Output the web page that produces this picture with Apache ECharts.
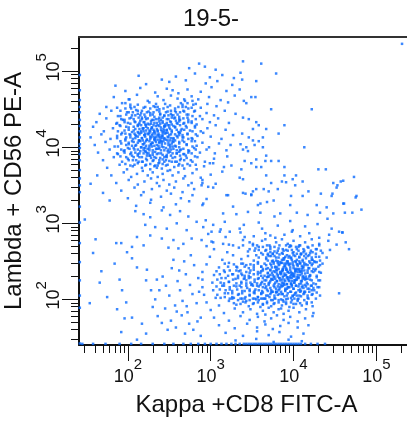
<!DOCTYPE html>
<html>
<head>
<meta charset="utf-8">
<script src="https://cdn.jsdelivr.net/npm/echarts@6/dist/echarts.min.js"></script>
<style>
html, body { margin: 0; padding: 0; background: #fff; }
#main { width: 407px; height: 421px; }
</style>
</head>
<body>
<div id="main"></div>
<script>
// all values are log10 of the channel intensity
var titleText = '19-5-';
var xName = 'Kappa +CD8 FITC-A';
var yName = 'Lambda + CD56 PE-A';
var xRange = [1.41, 5.37];
var yRange = [1.40, 5.45];
var decades = [2, 3, 4, 5];
var minorTickRaw = [30, 40, 50, 60, 70, 80, 90,
    200, 300, 400, 500, 600, 700, 800, 900,
    2000, 3000, 4000, 5000, 6000, 7000, 8000, 9000,
    20000, 30000, 40000, 50000, 60000, 70000, 80000, 90000, 200000];

// CD56+ population (upper left)
var nkCells = [
    [2.74,5.04],[2.86,5.1],[2.93,5.06],[3.06,5.02],[2.58,4.93],[2.81,4.97],[2.99,4.92],[3.14,4.95],[3.28,4.91],[2.22,4.83],[2.5,4.86],[2.7,4.88],[2.94,4.84],[3.08,4.87],[3.26,4.82],[1.85,4.81],[2.41,4.89],[2.13,4.94],
    [1.97,4.74],[2.15,4.78],[2.33,4.72],[2.47,4.77],[2.61,4.71],[2.72,4.76],[2.88,4.73],[3.01,4.79],[3.19,4.74],[2.54,4.75],
    [1.83,4.66],[2.02,4.63],[2.11,4.69],[2.24,4.61],[2.36,4.67],[2.43,4.62],[2.52,4.68],[2.6,4.64],[2.69,4.61],[2.77,4.67],[2.85,4.63],[2.98,4.66],[3.12,4.62],[3.29,4.68],
    [1.74,4.53],[1.93,4.58],[2.04,4.51],[2.12,4.56],[2.19,4.52],[2.26,4.59],[2.31,4.54],[2.38,4.5],[2.45,4.57],[2.51,4.55],[2.57,4.51],[2.64,4.58],[2.7,4.53],[2.79,4.56],[2.88,4.52],[2.96,4.57],[3.07,4.54],[3.21,4.59],[2.34,4.57],
    [1.66,4.44],[1.8,4.48],[1.91,4.41],[1.99,4.46],[2.05,4.42],[2.1,4.49],[2.16,4.45],[2.21,4.4],[2.25,4.47],[2.3,4.43],[2.35,4.49],[2.39,4.44],[2.44,4.41],[2.48,4.47],[2.53,4.42],[2.58,4.46],[2.62,4.4],[2.67,4.48],[2.73,4.43],[2.8,4.47],[2.87,4.41],[2.95,4.45],[3.04,4.42],[3.17,4.48],[3.3,4.44],[2.27,4.45],
    [1.62,4.33],[1.74,4.38],[1.86,4.31],[1.94,4.36],[2.0,4.32],[2.04,4.39],[2.08,4.34],[2.13,4.3],[2.17,4.37],[2.2,4.33],[2.24,4.38],[2.28,4.31],[2.31,4.36],[2.35,4.32],[2.38,4.39],[2.42,4.34],[2.45,4.3],[2.49,4.37],[2.52,4.33],[2.56,4.38],[2.6,4.31],[2.63,4.36],[2.68,4.32],[2.72,4.39],[2.77,4.34],[2.83,4.3],[2.9,4.37],[2.99,4.33],[3.09,4.38],[3.22,4.32],[2.15,4.35],[2.4,4.36],[2.58,4.35],
    [1.58,4.27],[1.71,4.21],[1.82,4.25],[1.9,4.29],[1.96,4.22],[2.01,4.26],[2.05,4.2],[2.09,4.24],[2.12,4.28],[2.16,4.21],[2.19,4.25],[2.22,4.29],[2.26,4.22],[2.29,4.26],[2.32,4.2],[2.35,4.24],[2.38,4.28],[2.41,4.21],[2.44,4.27],[2.47,4.23],[2.5,4.29],[2.53,4.22],[2.57,4.26],[2.61,4.2],[2.65,4.24],[2.7,4.28],[2.75,4.22],[2.81,4.26],[2.88,4.21],[2.96,4.25],[3.06,4.29],[3.18,4.23],[2.24,4.25],[2.36,4.22],[2.14,4.24],[2.55,4.28],[2.43,4.24],
    [1.55,4.13],[1.68,4.17],[1.79,4.11],[1.87,4.15],[1.93,4.19],[1.98,4.13],[2.02,4.17],[2.06,4.11],[2.1,4.15],[2.13,4.19],[2.17,4.12],[2.2,4.16],[2.23,4.1],[2.27,4.14],[2.3,4.18],[2.33,4.12],[2.36,4.16],[2.39,4.1],[2.42,4.15],[2.46,4.19],[2.49,4.13],[2.52,4.17],[2.55,4.11],[2.59,4.15],[2.63,4.19],[2.67,4.13],[2.72,4.17],[2.78,4.11],[2.84,4.15],[2.91,4.19],[3.0,4.14],[3.13,4.11],[3.27,4.16],[2.21,4.18],[2.34,4.14],[2.44,4.12],[2.08,4.18],[2.62,4.16],
    [1.6,4.03],[1.73,4.07],[1.84,4.01],[1.92,4.05],[1.97,4.09],[2.01,4.04],[2.05,4.08],[2.09,4.02],[2.12,4.06],[2.16,4.0],[2.19,4.04],[2.22,4.08],[2.26,4.02],[2.29,4.06],[2.32,4.1],[2.35,4.03],[2.38,4.07],[2.41,4.01],[2.45,4.05],[2.48,4.09],[2.51,4.03],[2.55,4.07],[2.58,4.01],[2.62,4.05],[2.66,4.09],[2.71,4.04],[2.77,4.08],[2.83,4.02],[2.9,4.06],[2.98,4.0],[3.1,4.05],[3.24,4.03],[2.28,4.04],[2.4,4.08],[2.14,4.09],[2.53,4.05],
    [1.64,3.93],[1.78,3.97],[1.88,3.91],[1.95,3.95],[2.0,3.99],[2.04,3.93],[2.08,3.97],[2.12,3.91],[2.15,3.95],[2.19,3.99],[2.23,3.92],[2.26,3.96],[2.3,3.9],[2.33,3.94],[2.37,3.98],[2.4,3.92],[2.44,3.96],[2.47,3.9],[2.51,3.94],[2.55,3.98],[2.59,3.92],[2.63,3.96],[2.68,3.91],[2.74,3.95],[2.8,3.99],[2.87,3.93],[2.95,3.97],[3.05,3.92],[3.19,3.96],[2.21,3.95],[2.35,3.91],[2.49,3.97],
    [1.7,3.83],[1.83,3.87],[1.93,3.81],[2.0,3.85],[2.05,3.89],[2.1,3.83],[2.14,3.87],[2.18,3.81],[2.22,3.85],[2.26,3.89],[2.3,3.82],[2.34,3.86],[2.38,3.8],[2.42,3.84],[2.46,3.88],[2.5,3.82],[2.54,3.86],[2.59,3.81],[2.64,3.85],[2.7,3.89],[2.76,3.83],[2.84,3.87],[2.93,3.81],[3.04,3.85],[3.2,3.88],[2.28,3.86],[2.44,3.81],
    [1.75,3.73],[1.9,3.77],[1.99,3.71],[2.06,3.75],[2.12,3.79],[2.17,3.73],[2.22,3.77],[2.27,3.71],[2.32,3.75],[2.37,3.79],[2.41,3.72],[2.46,3.76],[2.51,3.7],[2.56,3.74],[2.62,3.78],[2.68,3.72],[2.75,3.76],[2.83,3.71],[2.92,3.75],[3.03,3.79],[3.16,3.74],[2.35,3.73],
    [1.8,3.63],[1.95,3.67],[2.04,3.61],[2.11,3.65],[2.18,3.69],[2.24,3.63],[2.3,3.67],[2.36,3.61],[2.42,3.65],[2.48,3.69],[2.54,3.63],[2.61,3.67],[2.69,3.62],[2.78,3.66],[2.88,3.6],[3.0,3.64],[3.14,3.68],
    [1.86,3.53],[2.01,3.57],[2.12,3.51],[2.2,3.55],[2.28,3.59],[2.35,3.53],[2.43,3.57],[2.5,3.51],[2.58,3.55],[2.67,3.59],[2.77,3.53],[2.9,3.57],[3.06,3.52],
    [1.92,3.43],[2.08,3.47],[2.19,3.41],[2.29,3.45],[2.38,3.49],[2.47,3.43],[2.56,3.47],[2.66,3.41],[2.8,3.45],[2.97,3.48],
    [2.0,3.33],[2.16,3.37],[2.28,3.31],[2.4,3.35],[2.52,3.39],[2.64,3.33],[2.78,3.37],[2.95,3.32],
    [2.1,3.23],[2.27,3.27],[2.43,3.21],[2.58,3.25],[2.74,3.29],[2.9,3.24]
];

// densest part of the CD56+ population
var nkCore = [
    [2.07,3.87],[2.12,3.89],[2.09,3.93],[2.14,3.92],[2.17,3.87],[2.19,3.92],[2.23,3.89],[2.22,3.94],[2.32,3.87],[2.27,3.89],[2.3,3.93],[2.25,3.92],[2.37,3.92],[2.42,3.9],[2.39,3.86],[2.44,3.87],[2.47,3.87],[2.52,3.89],[2.49,3.93],[2.54,3.92],[2.57,3.87],[2.59,3.92],[2.63,3.89],[2.62,3.94],
    [2.12,3.97],[2.07,3.99],[2.1,4.03],[2.05,4.02],[2.16,4.0],[2.19,3.96],[2.22,4.02],[2.24,3.98],[2.18,4.04],[2.21,3.99],[2.3,3.96],[2.26,3.99],[2.32,4.02],[2.28,4.04],[2.34,3.98],[2.29,4.01],[2.43,4.0],[2.4,3.96],[2.37,4.02],[2.35,3.98],[2.41,4.04],[2.38,3.99],[2.46,3.99],[2.49,4.03],[2.52,3.97],[2.54,4.01],[2.48,3.95],[2.51,4.0],[2.57,4.02],[2.62,4.0],[2.59,3.96],[2.64,3.97],
    [2.07,4.07],[2.09,4.12],[2.13,4.09],[2.12,4.14],[2.23,4.1],[2.2,4.06],[2.17,4.12],[2.15,4.08],[2.21,4.14],[2.18,4.09],[2.26,4.08],[2.28,4.13],[2.3,4.06],[2.32,4.11],[2.34,4.07],[2.27,4.11],[2.31,4.14],[2.33,4.09],[2.38,4.06],[2.43,4.08],[2.36,4.1],[2.41,4.12],[2.37,4.14],[2.41,4.07],[2.44,4.11],[2.39,4.13],[2.46,4.1],[2.49,4.06],[2.52,4.12],[2.54,4.08],[2.48,4.14],[2.51,4.09],[2.62,4.07],[2.57,4.09],[2.6,4.13],[2.55,4.12],
    [2.07,4.22],[2.12,4.2],[2.09,4.16],[2.14,4.17],[2.2,4.16],[2.16,4.19],[2.22,4.22],[2.18,4.24],[2.24,4.18],[2.19,4.21],[2.33,4.18],[2.31,4.23],[2.29,4.16],[2.27,4.21],[2.25,4.17],[2.32,4.21],[2.28,4.24],[2.26,4.19],[2.36,4.21],[2.38,4.16],[2.4,4.23],[2.42,4.18],[2.44,4.22],[2.37,4.18],[2.41,4.15],[2.43,4.2],[2.53,4.2],[2.5,4.16],[2.47,4.22],[2.45,4.18],[2.51,4.24],[2.48,4.19],[2.57,4.17],[2.62,4.19],[2.59,4.23],[2.64,4.22],
    [2.07,4.27],[2.12,4.29],[2.09,4.33],[2.14,4.32],[2.16,4.29],[2.19,4.33],[2.22,4.27],[2.24,4.31],[2.18,4.25],[2.21,4.3],[2.26,4.3],[2.29,4.26],[2.32,4.32],[2.34,4.28],[2.28,4.34],[2.31,4.29],[2.4,4.26],[2.36,4.29],[2.42,4.32],[2.38,4.34],[2.44,4.28],[2.39,4.31],[2.53,4.3],[2.5,4.26],[2.47,4.32],[2.45,4.28],[2.51,4.34],[2.48,4.29],[2.57,4.27],[2.59,4.32],[2.63,4.29],[2.62,4.34],
    [2.07,4.37],[2.09,4.42],[2.13,4.39],[2.12,4.44],[2.22,4.37],[2.17,4.39],[2.2,4.43],[2.15,4.42],[2.27,4.42],[2.32,4.4],[2.29,4.36],[2.34,4.37],[2.37,4.37],[2.42,4.39],[2.39,4.43],[2.44,4.42],[2.47,4.37],[2.49,4.42],[2.53,4.39],[2.52,4.44],[2.62,4.37],[2.57,4.39],[2.6,4.43],[2.55,4.42]
];

// shoulder round the CD56+ core
var nkRing = [
    [1.97,3.78],[2.01,3.83],[2.03,3.76],[1.98,3.87],[2.03,3.91],[1.96,3.93],[2.02,3.98],[1.98,4.03],[1.96,3.96],[1.97,4.11],[2.01,4.06],[2.03,4.13],[1.97,4.18],[2.01,4.23],[2.03,4.16],[1.98,4.27],[2.03,4.31],[1.96,4.33],[2.02,4.38],[1.98,4.43],[1.96,4.36],[1.97,4.51],[2.01,4.46],[2.03,4.53],[1.97,4.58],[2.01,4.63],[2.03,4.56],
    [2.72,3.78],[2.68,3.83],[2.66,3.76],[2.67,3.91],[2.71,3.86],[2.73,3.93],[2.67,3.98],[2.71,4.03],[2.73,3.96],[2.68,4.07],[2.73,4.11],[2.66,4.13],[2.72,4.18],[2.68,4.23],[2.66,4.16],[2.67,4.31],[2.71,4.26],[2.73,4.33],[2.67,4.38],[2.71,4.43],[2.73,4.36],[2.68,4.47],[2.73,4.51],[2.66,4.53],[2.72,4.58],[2.68,4.63],[2.66,4.56],
    [2.78,3.81],[2.82,3.77],[2.81,3.88],[2.77,3.92],[2.78,4.01],[2.82,3.97],[2.81,4.08],[2.77,4.12],[2.78,4.21],[2.82,4.17],[2.81,4.28],[2.77,4.32],[2.78,4.41],[2.82,4.37],[2.81,4.48],[2.77,4.52],[2.78,4.61],[2.82,4.57],
    [2.08,3.77],[2.13,3.81],[2.06,3.83],[2.17,3.81],[2.21,3.76],[2.23,3.83],[2.27,3.78],[2.31,3.83],[2.33,3.76],[2.42,3.78],[2.38,3.83],[2.36,3.76],[2.48,3.77],[2.53,3.81],[2.46,3.83],[2.57,3.81],[2.61,3.76],[2.63,3.83],
    [2.12,4.48],[2.08,4.53],[2.06,4.46],[2.17,4.48],[2.21,4.53],[2.23,4.46],[2.27,4.51],[2.31,4.46],[2.33,4.53],[2.38,4.47],[2.43,4.51],[2.36,4.53],[2.52,4.48],[2.48,4.53],[2.46,4.46],[2.57,4.48],[2.61,4.53],[2.63,4.46],
    [1.91,3.88],[1.87,3.92],[1.88,4.01],[1.92,3.97],[1.91,4.08],[1.87,4.12],[1.88,4.21],[1.92,4.17],[1.91,4.28],[1.87,4.32],[1.88,4.41],[1.92,4.37],[1.91,4.48],[1.87,4.52]
];

// CD8+ population (lower right)
var cd8Cells = [
    [2.94,3.04],[3.31,3.12],[3.58,3.01],[3.77,3.09],[3.96,3.03],[4.17,3.11],[4.41,3.06],[4.62,3.14],
    [2.91,2.95],[3.12,2.92],[3.4,2.98],[3.62,2.93],[3.81,2.97],[3.99,2.91],[4.14,2.96],[4.29,2.99],[4.46,2.93],[4.59,2.88],
    [2.97,2.86],[3.18,2.82],[3.36,2.88],[3.52,2.83],[3.66,2.87],[3.78,2.81],[3.89,2.85],[3.98,2.89],[4.08,2.83],[4.19,2.87],[4.31,2.81],[4.43,2.85],[4.55,2.89],[3.72,2.84],
    [3.01,2.76],[3.22,2.72],[3.39,2.78],[3.51,2.73],[3.62,2.77],[3.71,2.71],[3.79,2.75],[3.86,2.79],[3.93,2.73],[4.0,2.77],[4.07,2.71],[4.14,2.75],[4.22,2.79],[4.31,2.73],[4.42,2.77],[4.52,2.72],[3.66,2.79],[3.97,2.7],
    [3.04,2.66],[3.2,2.62],[3.34,2.68],[3.45,2.63],[3.54,2.67],[3.61,2.61],[3.67,2.65],[3.72,2.69],[3.77,2.63],[3.82,2.67],[3.86,2.61],[3.91,2.65],[3.95,2.69],[4.0,2.62],[4.04,2.66],[4.09,2.6],[4.13,2.64],[4.18,2.68],[4.23,2.62],[4.28,2.66],[4.35,2.61],[4.44,2.65],[3.58,2.69],[3.88,2.64],[4.06,2.69],[3.75,2.6],
    [2.99,2.56],[3.14,2.52],[3.27,2.58],[3.37,2.53],[3.45,2.57],[3.52,2.51],[3.58,2.55],[3.63,2.59],[3.67,2.53],[3.71,2.57],[3.75,2.51],[3.79,2.55],[3.83,2.59],[3.86,2.52],[3.9,2.56],[3.93,2.5],[3.97,2.54],[4.0,2.58],[4.04,2.52],[4.07,2.56],[4.11,2.5],[4.15,2.54],[4.19,2.58],[4.23,2.52],[4.27,2.56],[4.32,2.51],[4.4,2.55],[3.69,2.58],[3.81,2.5],[3.95,2.57],[4.09,2.59],[4.25,2.5],[3.55,2.58],[3.88,2.54],
    [2.95,2.46],[3.1,2.42],[3.22,2.48],[3.31,2.43],[3.39,2.47],[3.46,2.41],[3.52,2.45],[3.57,2.49],[3.61,2.43],[3.65,2.47],[3.69,2.41],[3.73,2.45],[3.76,2.49],[3.8,2.42],[3.83,2.46],[3.87,2.4],[3.9,2.44],[3.93,2.48],[3.96,2.42],[3.99,2.46],[4.02,2.4],[4.05,2.44],[4.08,2.48],[4.12,2.42],[4.15,2.46],[4.18,2.41],[4.22,2.45],[4.26,2.49],[4.3,2.43],[4.35,2.47],[3.74,2.42],[3.85,2.48],[3.95,2.45],[4.03,2.49],[4.1,2.4],[4.2,2.48],[3.63,2.4],[3.43,2.45],[3.89,2.47],[4.13,2.45],
    [2.9,2.36],[3.04,2.32],[3.16,2.38],[3.26,2.33],[3.34,2.37],[3.41,2.31],[3.47,2.35],[3.52,2.39],[3.57,2.33],[3.61,2.37],[3.65,2.31],[3.69,2.35],[3.72,2.39],[3.75,2.32],[3.78,2.36],[3.81,2.3],[3.84,2.34],[3.87,2.38],[3.9,2.32],[3.93,2.36],[3.96,2.3],[3.99,2.34],[4.02,2.38],[4.05,2.32],[4.08,2.36],[4.11,2.3],[4.14,2.34],[4.17,2.38],[4.2,2.32],[4.24,2.36],[4.28,2.31],[4.33,2.35],[3.7,2.3],[3.8,2.38],[3.91,2.39],[4.0,2.31],[4.1,2.37],[4.19,2.3],[3.6,2.35],[3.85,2.33],[3.95,2.35],[4.06,2.39],[3.37,2.34],[4.26,2.38],
    [2.9,2.26],[3.02,2.22],[3.13,2.28],[3.22,2.23],[3.3,2.27],[3.37,2.21],[3.43,2.25],[3.48,2.29],[3.53,2.23],[3.57,2.27],[3.61,2.21],[3.65,2.25],[3.68,2.29],[3.71,2.22],[3.74,2.26],[3.77,2.2],[3.8,2.24],[3.83,2.28],[3.86,2.22],[3.89,2.26],[3.92,2.2],[3.95,2.24],[3.98,2.28],[4.01,2.22],[4.04,2.26],[4.07,2.2],[4.1,2.24],[4.13,2.28],[4.16,2.22],[4.2,2.26],[4.24,2.21],[4.3,2.25],[3.63,2.28],[3.76,2.29],[3.88,2.2],[3.97,2.21],[4.06,2.29],[4.15,2.27],[3.5,2.2],[3.72,2.24],[3.84,2.25],[3.93,2.29],[4.02,2.25],[3.4,2.27],
    [2.9,2.16],[3.03,2.12],[3.14,2.18],[3.23,2.13],[3.31,2.17],[3.38,2.11],[3.44,2.15],[3.49,2.19],[3.54,2.13],[3.58,2.17],[3.62,2.11],[3.66,2.15],[3.7,2.19],[3.73,2.12],[3.77,2.16],[3.8,2.1],[3.83,2.14],[3.87,2.18],[3.9,2.12],[3.93,2.16],[3.96,2.1],[4.0,2.14],[4.03,2.18],[4.06,2.12],[4.1,2.16],[4.13,2.1],[4.17,2.14],[4.21,2.18],[4.25,2.12],[4.29,2.16],[3.6,2.19],[3.75,2.1],[3.85,2.19],[3.98,2.19],[4.08,2.1],[3.68,2.13],[3.92,2.14],[4.15,2.17],[3.47,2.11],[3.35,2.18],
    [2.92,2.06],[3.06,2.02],[3.17,2.08],[3.26,2.03],[3.34,2.07],[3.41,2.01],[3.47,2.05],[3.52,2.09],[3.57,2.03],[3.61,2.07],[3.65,2.01],[3.69,2.05],[3.73,2.09],[3.77,2.02],[3.81,2.06],[3.85,2.0],[3.89,2.04],[3.93,2.08],[3.97,2.02],[4.01,2.06],[4.05,2.0],[4.09,2.04],[4.13,2.08],[4.17,2.02],[4.22,2.06],[4.27,2.01],[3.63,2.09],[3.79,2.09],[3.91,2.0],[4.03,2.09],[3.55,2.0],[3.71,2.03],[3.86,2.07],[3.99,2.05],
    [2.95,1.96],[3.1,1.92],[3.22,1.98],[3.31,1.93],[3.39,1.97],[3.46,1.91],[3.52,1.95],[3.58,1.99],[3.63,1.93],[3.68,1.97],[3.73,1.91],[3.77,1.95],[3.82,1.99],[3.86,1.92],[3.91,1.96],[3.95,1.9],[4.0,1.94],[4.05,1.98],[4.1,1.92],[4.16,1.96],[4.23,1.91],[3.6,1.9],[3.75,1.99],[3.88,1.97],[3.98,1.99],[3.43,1.98],
    [3.0,1.86],[3.16,1.82],[3.29,1.88],[3.39,1.83],[3.48,1.87],[3.56,1.81],[3.63,1.85],[3.7,1.89],[3.76,1.83],[3.82,1.87],[3.88,1.81],[3.94,1.85],[4.0,1.89],[4.07,1.83],[4.15,1.87],[4.24,1.82],[3.66,1.8],[3.85,1.88],
    [3.04,1.76],[3.22,1.72],[3.36,1.78],[3.47,1.73],[3.57,1.77],[3.65,1.71],[3.73,1.75],[3.8,1.79],[3.88,1.73],[3.96,1.77],[4.05,1.71],[4.14,1.75],[4.23,1.78],
    [3.1,1.66],[3.29,1.62],[3.44,1.68],[3.56,1.63],[3.66,1.67],[3.75,1.61],[3.84,1.65],[3.94,1.69],[4.05,1.63],[4.18,1.66],
    [3.18,1.56],[3.39,1.52],[3.56,1.58],[3.7,1.53],[3.83,1.57],[3.97,1.51],[4.12,1.55],
    [3.3,1.46],[3.55,1.48],[3.76,1.44],[3.94,1.47],[4.1,1.45]
];

// densest part of the CD8+ population and its left wing
var cd8Core = [
    [3.67,2.05],[3.72,2.07],[3.69,2.11],[3.74,2.1],[3.77,2.05],[3.79,2.1],[3.83,2.07],[3.82,2.12],[3.92,2.05],[3.87,2.07],[3.9,2.11],[3.85,2.1],[3.97,2.1],[4.02,2.08],[3.99,2.04],[4.04,2.05],[4.07,2.05],[4.12,2.07],[4.09,2.11],[4.14,2.1],[4.17,2.05],[4.19,2.1],[4.23,2.07],[4.22,2.12],
    [3.72,2.15],[3.67,2.17],[3.7,2.21],[3.65,2.2],[3.76,2.18],[3.79,2.14],[3.82,2.2],[3.84,2.16],[3.78,2.22],[3.81,2.17],[3.9,2.14],[3.86,2.17],[3.92,2.2],[3.88,2.22],[3.94,2.16],[3.89,2.19],[4.03,2.18],[4.0,2.14],[3.97,2.2],[3.95,2.16],[4.01,2.22],[3.98,2.17],[4.06,2.17],[4.09,2.21],[4.12,2.15],[4.14,2.19],[4.08,2.13],[4.11,2.18],[4.17,2.2],[4.22,2.18],[4.19,2.14],[4.24,2.15],
    [3.67,2.25],[3.69,2.3],[3.73,2.27],[3.72,2.32],[3.83,2.28],[3.8,2.24],[3.77,2.3],[3.75,2.26],[3.81,2.32],[3.78,2.27],[3.86,2.26],[3.88,2.31],[3.9,2.24],[3.92,2.29],[3.94,2.25],[3.87,2.29],[3.91,2.32],[3.93,2.27],[3.98,2.24],[4.03,2.26],[3.96,2.28],[4.01,2.3],[3.97,2.32],[4.01,2.25],[4.04,2.29],[3.99,2.31],[4.06,2.28],[4.09,2.24],[4.12,2.3],[4.14,2.26],[4.08,2.32],[4.11,2.27],[4.22,2.25],[4.17,2.27],[4.2,2.31],[4.15,2.3],
    [3.67,2.4],[3.72,2.38],[3.69,2.34],[3.74,2.35],[3.8,2.34],[3.76,2.37],[3.82,2.4],[3.78,2.42],[3.84,2.36],[3.79,2.39],[3.93,2.36],[3.91,2.41],[3.89,2.34],[3.87,2.39],[3.85,2.35],[3.92,2.39],[3.88,2.42],[3.86,2.37],[3.96,2.39],[3.98,2.34],[4.0,2.41],[4.02,2.36],[4.04,2.4],[3.97,2.36],[4.01,2.33],[4.03,2.38],[4.13,2.38],[4.1,2.34],[4.07,2.4],[4.05,2.36],[4.11,2.42],[4.08,2.37],[4.17,2.35],[4.22,2.37],[4.19,2.41],[4.24,2.4],
    [3.67,2.45],[3.72,2.47],[3.69,2.51],[3.74,2.5],[3.76,2.47],[3.79,2.51],[3.82,2.45],[3.84,2.49],[3.78,2.43],[3.81,2.48],[3.86,2.48],[3.89,2.44],[3.92,2.5],[3.94,2.46],[3.88,2.52],[3.91,2.47],[4.0,2.44],[3.96,2.47],[4.02,2.5],[3.98,2.52],[4.04,2.46],[3.99,2.49],[4.13,2.48],[4.1,2.44],[4.07,2.5],[4.05,2.46],[4.11,2.52],[4.08,2.47],[4.17,2.45],[4.19,2.5],[4.23,2.47],[4.22,2.52],
    [3.67,2.55],[3.69,2.6],[3.73,2.57],[3.72,2.62],[3.82,2.55],[3.77,2.57],[3.8,2.61],[3.75,2.6],[3.87,2.6],[3.92,2.58],[3.89,2.54],[3.94,2.55],[3.97,2.55],[4.02,2.57],[3.99,2.61],[4.04,2.6],[4.07,2.55],[4.09,2.6],[4.13,2.57],[4.12,2.62],[4.22,2.55],[4.17,2.57],[4.2,2.61],[4.15,2.6],
    [3.17,2.03],[3.21,2.08],[3.23,2.01],[3.28,2.02],[3.33,2.06],[3.26,2.08],[3.42,2.03],[3.38,2.08],[3.36,2.01],[3.47,2.06],[3.51,2.01],[3.53,2.08],[3.57,2.03],[3.61,2.08],[3.63,2.01],
    [3.18,2.12],[3.23,2.16],[3.16,2.18],[3.32,2.13],[3.28,2.18],[3.26,2.11],[3.37,2.16],[3.41,2.11],[3.43,2.18],[3.47,2.13],[3.51,2.18],[3.53,2.11],[3.58,2.12],[3.63,2.16],[3.56,2.18],
    [3.22,2.23],[3.18,2.28],[3.16,2.21],[3.27,2.26],[3.31,2.21],[3.33,2.28],[3.37,2.23],[3.41,2.28],[3.43,2.21],[3.48,2.22],[3.53,2.26],[3.46,2.28],[3.62,2.23],[3.58,2.28],[3.56,2.21],
    [3.17,2.36],[3.21,2.31],[3.23,2.38],[3.27,2.33],[3.31,2.38],[3.33,2.31],[3.38,2.32],[3.43,2.36],[3.36,2.38],[3.52,2.33],[3.48,2.38],[3.46,2.31],[3.57,2.36],[3.61,2.31],[3.63,2.38]
];

// shoulder round the CD8+ core
var cd8Ring = [
    [3.47,2.66],[3.51,2.71],[3.53,2.64],[3.58,2.65],[3.63,2.69],[3.56,2.71],[3.72,2.66],[3.68,2.71],[3.66,2.64],[3.77,2.69],[3.81,2.64],[3.83,2.71],[3.87,2.66],[3.91,2.71],[3.93,2.64],[3.98,2.65],[4.03,2.69],[3.96,2.71],[4.12,2.66],[4.08,2.71],[4.06,2.64],[4.17,2.69],[4.21,2.64],[4.23,2.71],[4.27,2.66],[4.31,2.71],[4.33,2.64],
    [3.28,1.95],[3.33,1.99],[3.26,2.01],[3.42,1.96],[3.38,2.01],[3.36,1.94],[3.47,1.99],[3.51,1.94],[3.53,2.01],[3.57,1.96],[3.61,2.01],[3.63,1.94],[3.68,1.95],[3.73,1.99],[3.66,2.01],[3.82,1.96],[3.78,2.01],[3.76,1.94],[3.87,1.99],[3.91,1.94],[3.93,2.01],[3.97,1.96],[4.01,2.01],[4.03,1.94],[4.08,1.95],[4.13,1.99],[4.06,2.01],[4.22,1.96],[4.18,2.01],[4.16,1.94],
    [4.28,2.09],[4.32,2.05],[4.31,2.16],[4.27,2.2],[4.28,2.29],[4.32,2.25],[4.31,2.36],[4.27,2.4],[4.28,2.49],[4.32,2.45],[4.31,2.56],[4.27,2.6],
    [3.21,2.43],[3.17,2.47],[3.28,2.46],[3.32,2.42],[3.41,2.43],[3.37,2.47],[3.48,2.46],[3.52,2.42],[3.61,2.43],[3.57,2.47],
    [3.08,2.06],[3.12,2.02],[3.11,2.13],[3.07,2.17],[3.08,2.26],[3.12,2.22],[3.11,2.33],[3.07,2.37]
];

// events between and around the two populations
var otherEvents = [
    [1.48,3.05],[1.61,2.79],[1.58,2.61],[1.68,2.37],[1.66,2.22],[1.84,2.47],[1.9,2.26],[1.75,2.03],[1.54,1.95],[1.93,2.12],[1.98,1.96],[1.87,1.87],[1.96,1.75],[2.05,1.76],[1.92,1.57],[2.11,1.47],[2.22,1.55],[2.17,1.68],[1.86,2.74],[1.92,2.74],[1.99,2.62],[2.05,2.54],[2.11,2.42],[2.23,2.39],[2.22,2.25],[2.28,2.12],[2.35,2.26],[2.38,2.12],
    [2.42,2.3],[2.46,2.18],[2.5,2.05],[2.53,2.41],[2.57,1.92],[2.6,2.24],[2.63,2.12],[2.66,1.98],[2.7,2.33],[2.72,1.83],[2.75,2.19],[2.78,2.07],[2.8,2.45],[2.83,1.95],[2.85,2.28],[2.88,1.76],[2.45,1.88],[2.52,1.72],[2.58,1.63],[2.65,1.79],[2.69,1.55],[2.74,1.68],[2.79,1.6],[2.84,1.71],[2.88,1.52],[2.62,2.38],[2.68,2.5],[2.76,2.58],[2.55,2.52],[2.48,1.6],[2.3,1.9],[2.36,1.78],[2.41,1.69],[2.33,2.0],[2.71,1.91],[2.86,2.1],[2.59,1.84],
    [2.99,3.79],[3.25,3.76],[3.35,3.6],[3.55,3.74],[2.89,3.5],[3.19,3.37],[3.42,3.39],[3.49,3.38],[2.91,3.26],[3.15,3.13],[3.27,3.22],[3.45,3.15],[3.57,3.24],[2.83,3.02],[3.03,2.98],[3.17,3.02],[3.01,2.89],[3.11,2.89],[3.23,2.89],[3.35,2.93],[3.41,2.82],[2.89,2.78],[3.03,2.75],[3.15,2.73],[3.27,2.71],[3.39,2.71],[3.47,2.75],[2.95,2.7],
    [2.09,3.16],[2.19,3.12],[2.27,3.08],[2.41,3.17],[2.51,3.11],[2.63,3.16],[2.73,3.09],[2.21,2.98],[2.33,2.95],[2.47,2.93],[2.59,3.0],[2.71,2.91],[2.11,2.82],[2.27,2.84],[2.41,2.8],[2.55,2.78],[2.67,2.73],[2.77,2.8],[2.05,2.69],[2.19,2.71],[2.49,2.68],[2.61,2.67],
    [5.31,5.36],[3.39,5.13],[3.61,5.1],[3.79,4.97],[3.55,4.87],[3.36,4.98],[3.38,4.89],[3.35,4.76],[3.49,4.66],[3.54,4.66],[3.43,4.58],[3.4,4.61],[3.73,4.5],[4.22,4.5],[3.39,4.39],[3.46,4.37],[3.55,4.33],[3.58,4.29],[3.51,4.24],[3.67,4.24],[3.89,4.29],[3.82,4.18],[3.38,4.18],[3.46,4.13],[3.63,4.13],[3.51,4.09],[3.58,4.08],[3.36,4.04],[3.43,4.0],[3.53,4.03],[3.63,4.0],[3.39,3.97],[3.45,3.95],[4.13,4.0],[3.67,3.89],[3.41,3.82],[3.49,3.79],[3.55,3.84],[3.66,3.82],[3.73,3.82],[3.82,3.82],[3.37,3.71],[3.61,3.74],[3.89,3.74],[4.3,3.71],[4.39,3.71],[4.73,3.61],[3.39,3.58],[3.67,3.63],[3.89,3.63],[4.03,3.63],[3.99,3.58],[3.86,3.55],[3.91,3.54],[4.11,3.55],[4.02,3.5],[3.73,3.53],[4.48,3.53],[4.57,3.55],[4.6,3.56],[4.52,3.47],[4.47,3.39],[4.33,3.39],[4.18,3.42],[3.64,3.45],[3.81,3.45],[3.7,3.42],[3.55,3.45],[3.51,3.42],[3.39,3.4],[3.49,3.37],[3.97,3.36],[4.11,3.36],[4.46,3.36],[4.76,3.36],
    [4.75,3.34],[4.82,3.18],[4.71,3.14],[4.61,3.26],[4.67,2.66],[4.55,2.08],[4.63,2.75],[4.59,2.88],
    [2.73,3.5],[2.9,3.53],[3.03,3.47],[3.21,3.37],[3.6,3.26],[3.68,3.28],[3.76,3.3],[3.6,3.14],[3.84,3.13],[3.96,3.24],[4.04,3.14],[4.28,3.24],[4.32,3.14],[4.4,3.21],[4.48,3.13],[4.53,3.5],[4.6,3.26],
    [1.55,3.52],[1.7,3.4],[1.63,3.63],[1.78,3.3]
];

// off-scale events piled on the axes
var leftPileX = 1.42;
var leftPileY = [4.95, 4.75, 4.62, 4.53, 4.46, 4.36, 4.28, 4.21, 4.13, 4.04, 3.99, 3.91, 3.83, 3.7, 3.59, 3.5, 3.41, 3.22, 3.01, 2.74, 2.49, 2.25, 2.05, 1.89, 1.42];
var bottomPileY = 1.415;
var bottomPileX = [1.45, 1.58, 1.73, 1.9, 2.04, 2.16, 2.3, 2.44, 2.55, 2.67, 2.76, 2.85, 2.93, 3.0, 3.07, 3.13, 3.19, 3.25, 3.3, 3.35, 3.4, 3.43, 3.46, 3.49, 3.52, 3.55, 3.58, 3.61, 3.64, 3.67, 3.7, 3.73, 3.76, 3.79, 3.82, 3.85, 3.88, 3.91, 3.94, 3.97, 4.0, 4.03, 4.06, 4.09, 4.14, 4.21, 4.29, 4.38];

var FONT = "'Liberation Sans', Arial, sans-serif";
var INK = '#111';
var DOT = '#0a6aff';

var minorTicks = minorTickRaw.map(function (v) { return Math.log10(v); });
var pileEvents = leftPileY.map(function (y) { return [leftPileX, y]; })
    .concat(bottomPileX.map(function (x) { return [x, bottomPileY]; }));

var powerRich = {
    p: { width: 8, fontSize: 15, fontFamily: FONT },
    b: { fontSize: 18, height: 18, lineHeight: 29, verticalAlign: 'bottom', color: INK, fontFamily: FONT },
    s: { fontSize: 15, height: 15, lineHeight: 15, verticalAlign: 'top', color: INK, fontFamily: FONT }
};

function dotSeries(data) {
    return {
        type: 'scatter',
        data: data,
        symbol: 'rect',
        symbolSize: 2.5,
        itemStyle: { color: DOT },
        silent: true,
        animation: false
    };
}

function minorAxis(range, position) {
    return {
        type: 'value',
        min: range[0],
        max: range[1],
        position: position,
        axisLine: { show: false, onZero: false },
        axisTick: { customValues: minorTicks, length: 8, lineStyle: { color: INK, width: 1 } },
        axisLabel: { show: false },
        splitLine: { show: false }
    };
}

var myChart = echarts.init(document.getElementById('main'));

myChart.setOption({
    animation: false,
    backgroundColor: '#fff',
    title: {
        text: titleText,
        left: 211,
        top: 7,
        textAlign: 'center',
        padding: 0,
        textStyle: { fontSize: 24, fontWeight: 'normal', fontFamily: FONT, color: INK }
    },
    grid: { left: 79, right: 0, top: 37, bottom: 76, containLabel: false, outerBoundsMode: 'none' },
    xAxis: [
        {
            type: 'value',
            min: xRange[0],
            max: xRange[1],
            position: 'bottom',
            name: xName,
            nameLocation: 'middle',
            nameGap: 48,
            nameTextStyle: { fontSize: 24, fontFamily: FONT, color: INK, padding: [0, 0, 0, 7] },
            axisLine: { onZero: false, lineStyle: { color: INK, width: 2 } },
            axisTick: { customValues: decades, length: 16, lineStyle: { color: INK, width: 1 } },
            axisLabel: {
                customValues: decades,
                margin: 12,
                formatter: function (v) { return '{b|10}{s|' + v + '}'; },
                rich: powerRich
            },
            splitLine: { show: false }
        },
        minorAxis(xRange, 'bottom'),
        {
            type: 'value',
            min: xRange[0],
            max: xRange[1],
            position: 'top',
            axisLine: { onZero: false, lineStyle: { color: '#333', width: 2 } },
            axisTick: { show: false },
            axisLabel: { show: false },
            splitLine: { show: false }
        }
    ],
    yAxis: [
        {
            type: 'value',
            min: yRange[0],
            max: yRange[1],
            position: 'left',
            name: yName,
            nameLocation: 'middle',
            nameGap: 42,
            nameTextStyle: { fontSize: 24, fontFamily: FONT, color: INK },
            axisLine: { onZero: false, lineStyle: { color: INK, width: 2 } },
            axisTick: { customValues: decades, length: 17, lineStyle: { color: INK, width: 1 } },
            axisLabel: {
                customValues: decades,
                rotate: 90,
                margin: 16,
                formatter: function (v) { return '{p| }{b|10}{s|' + v + '}'; },
                rich: powerRich
            },
            splitLine: { show: false }
        },
        minorAxis(yRange, 'left')
    ],
    series: [
        dotSeries(otherEvents),
        dotSeries(nkCells),
        dotSeries(nkRing),
        dotSeries(nkCore),
        dotSeries(cd8Cells),
        dotSeries(cd8Ring),
        dotSeries(cd8Core),
        dotSeries(pileEvents)
    ]
});
</script>
</body>
</html>
